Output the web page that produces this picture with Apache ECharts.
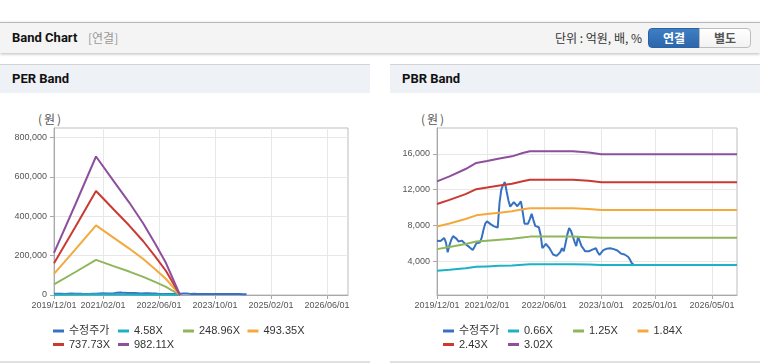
<!DOCTYPE html>
<html><head><meta charset="utf-8">
<script src="https://cdn.jsdelivr.net/npm/echarts@6/dist/echarts.min.js"></script>
<style>
html,body{margin:0;padding:0;width:760px;height:364px;overflow:hidden;background:#fff;font-family:Roboto,"Noto Sans CJK KR",sans-serif;}
#hdr{position:absolute;left:0;top:22px;width:760px;height:30px;border-top:1px solid #b8b8b8;background:#f4f4f4;box-shadow:0 1px 3px rgba(0,0,0,0.28);}
#ttl{position:absolute;left:12px;top:0;line-height:30px;font-weight:bold;font-size:13px;color:#111;}
#sub{position:absolute;left:88px;top:0;line-height:30px;font-size:12px;color:#999;font-family:"Noto Sans CJK KR",sans-serif;}
#unit{position:absolute;right:118px;top:0;line-height:30px;font-size:12px;color:#333;font-family:"Noto Sans CJK KR",sans-serif;}
.btn{position:absolute;top:5px;height:20px;box-sizing:border-box;font-size:12px;font-weight:bold;text-align:center;line-height:18px;font-family:"Noto Sans CJK KR",sans-serif;}
#b1{left:648px;width:52px;background:linear-gradient(#3f7ec4,#2c66ab);color:#fff;border:1px solid #2b62a4;border-radius:4px 0 0 4px;}
#b2{left:699px;width:52px;background:linear-gradient(#fff,#f2f2f2);color:#555;border:1px solid #bdbdbd;border-radius:0 4px 4px 0;}
.pt{position:absolute;top:64px;height:29px;width:370px;box-sizing:border-box;border-top:1px solid #d3d3d3;background:#eef2f7;font-weight:bold;font-size:13px;line-height:28px;padding-left:12px;color:#111;}
.won{position:absolute;top:110px;font-size:12px;letter-spacing:2px;color:#555;font-family:"Noto Sans CJK KR",sans-serif;}
.bl{position:absolute;top:361px;height:2px;width:370px;background:#e0e0e0;}
#chart{position:absolute;left:0;top:0;width:760px;height:364px;}
</style></head>
<body>
<div id="hdr"><div id="ttl">Band Chart</div><div id="sub">[연결]</div><div id="unit">단위 : 억원, 배, %</div>
<div class="btn" id="b1">연결</div><div class="btn" id="b2">별도</div></div>
<div class="pt" style="left:0">PER Band</div>
<div class="pt" style="left:390px">PBR Band</div>
<div class="won" style="left:38px">(원)</div>
<div class="won" style="left:421px">(원)</div>
<div class="bl" style="left:0"></div><div class="bl" style="left:390px"></div>
<div id="chart"></div>
<script>
// ---------- data ----------
const perTickLabels = ['2019/12/01','2021/02/01','2022/06/01','2023/10/01','2025/02/01','2026/06/01'];
const pbrTickLabels = ['2019/12/01','2021/02/01','2022/06/01','2023/10/01','2025/01/01','2026/05/01'];
const perYTicks = [0,200000,400000,600000,800000];
const pbrYTicks = [4000,8000,12000,16000];

// semi-monthly category axis 2019/12/01 .. 2026/12/01
const categories = [];
for (let m = 0; m <= 84; m++) {
  const y = 2019 + Math.floor((11 + m) / 12);
  const mo = (11 + m) % 12 + 1;
  const p = y + '/' + String(mo).padStart(2, '0');
  categories.push(p + '/01');
  if (m < 84) categories.push(p + '/16');
}

// 수정주가 (semi-monthly from 2019/12/01)
const price = [6300,6300,6250,6300,6600,6100,5000,5800,6400,6800,
  7000,6500,6200,6300,6300,6100,5900,5800,5600,5400,
  5250,5600,6000,6050,6100,6600,7500,8200,8450,8300,
  8150,8000,7900,7800,7750,10500,12000,12500,12850,11800,
  10800,10100,10300,10600,10400,10150,10300,10700,9500,8200,
  8200,8200,8700,9300,8600,7950,7900,7800,7000,5450,
  5700,5950,5700,5450,5100,4750,4600,4600,4600,5000,
  5450,5100,6000,7000,7700,7400,7300,6200,5700,6750,
  6200,5650,5400,5100,5100,5100,5100,5300,5450,5450,
  5000,4700,4900,5200,5300,5400,5450,5450,5400,5350,
  5350,5200,5000,4850,4800,4750,4700,4500,4200,3800,3650];

// PER band
const perNames = ['4.58X','248.96X','493.35X','737.73X','982.11X'];
const perBandDates = ['2019/12/01','2020/06/01','2020/12/01','2021/05/01','2021/09/16','2022/01/16','2022/05/01','2022/08/01','2022/12/01'];
const per458  = [998,2125,3279,2702,2189,1695,1200,756,0];
const per24896 = [54270,115520,178260,146890,119000,92120,65230,41080,0];
const per49335 = [107550,228910,353240,291080,235820,182540,129260,81400,0];
const per73773 = [160830,342310,528220,435260,352640,272960,193290,121730,0];
const per98211 = [214100,455700,703190,579450,469450,363380,257310,162050,0];

// PBR band
const pbrNames = ['0.66X','1.25X','1.84X','2.43X','3.02X'];
const pbrBandDates = ['2019/12/01','2020/03/16','2020/08/01','2020/11/01','2021/02/01','2021/05/16','2021/09/01','2021/12/01','2022/02/01','2023/02/01','2023/02/16','2023/06/16','2023/10/01','2026/12/01'];
const pbr066 = [2920,3040,3220,3370,3420,3480,3530,3610,3650,3650,3620,3620,3580,3580];
const pbr125 = [5350,5580,5920,6200,6300,6410,6510,6660,6750,6750,6690,6690,6610,6610];
const pbr184 = [7880,8220,8720,9130,9270,9430,9580,9810,9930,9930,9840,9840,9720,9720];
const pbr243 = [10400,10860,11510,12060,12240,12460,12660,12950,13120,13120,13000,13000,12840,12840];
const pbr302 = [12930,13490,14310,14990,15210,15480,15730,16100,16300,16300,16150,16150,15960,15960];

const colors = ['#3672c2','#1cb2c5','#8fb65a','#f3a93c','#cb3a32','#8e4f9e'];

// ---------- chart ----------
const pair = (dates, vals) => dates.map((d, i) => [d, vals[i]]);
const axisColor = '#a9a9a9', gridColor = '#e7e7e7', labelFont = '"Liberation Sans", Arial, sans-serif';

function xAxisCfg(gi, labels) {
  const show = (i, v) => labels.indexOf(v) >= 0;
  return {type:'category', gridIndex:gi, data:categories, boundaryGap:false,
    axisLine:{lineStyle:{color:axisColor}},
    axisTick:{show:true, interval:show, length:4, lineStyle:{color:axisColor}},
    axisLabel:{interval:show, fontSize:9, color:'#555', margin:6, fontFamily:labelFont},
    splitLine:{show:true, interval:show, lineStyle:{color:gridColor}}};
}
function yAxisCfg(gi, min, max, ticks) {
  return {type:'value', gridIndex:gi, min:min, max:max,
    axisLine:{show:true, lineStyle:{color:axisColor}},
    axisTick:{show:true, length:4, lineStyle:{color:axisColor}, customValues:ticks},
    axisLabel:{customValues:ticks, fontSize:9, color:'#555', margin:7, fontFamily:labelFont,
      formatter:v => Number(v).toLocaleString('en-US')},
    splitLine:{show:true, lineStyle:{color:gridColor}}};
}
function line(name, data, color, gi) {
  return {type:'line', name, data, xAxisIndex:gi, yAxisIndex:gi, color,
    symbol:'none', lineStyle:{width:2, color}, itemStyle:{color}, animation:false};
}
function leg(name, left, top) {
  return {data:[name], left, top, icon:'rect', itemWidth:11, itemHeight:3, itemGap:0, padding:0,
    selectedMode:false, textStyle:{fontSize:11, color:'#333', lineHeight:12, fontFamily:'"Liberation Sans", Arial, "Noto Sans CJK KR", sans-serif'}};
}

const series = [line('수정주가', price, colors[0], 0)];
[per458, per24896, per49335, per73773, per98211].forEach((v, i) =>
  series.push(line(perNames[i], pair(perBandDates, v), colors[i + 1], 0)));
series.push(line('수정주가', price, colors[0], 1));
[pbr066, pbr125, pbr184, pbr243, pbr302].forEach((v, i) =>
  series.push(line(pbrNames[i], pair(pbrBandDates, v), colors[i + 1], 1)));

const colX = [53, 118, 183, 247.5];
const rowY = [325, 338.5];
const legends = [];
['수정주가'].concat(perNames).forEach((n, i) => legends.push(leg(n, colX[i % 4], rowY[Math.floor(i / 4)])));
['수정주가'].concat(pbrNames).forEach((n, i) => legends.push(leg(n, colX[i % 4] + 390, rowY[Math.floor(i / 4)])));

const chart = echarts.init(document.getElementById('chart'), null, {renderer:'canvas'});
chart.setOption({
  animation:false,
  backgroundColor:'transparent',
  grid:[
    {left:54, top:128, width:294, height:167, show:true, borderColor:'#bdbdbd', borderWidth:1, backgroundColor:'#fff'},
    {left:437, top:128, width:300, height:167, show:true, borderColor:'#bdbdbd', borderWidth:1, backgroundColor:'#fff'}
  ],
  xAxis:[xAxisCfg(0, perTickLabels), xAxisCfg(1, pbrTickLabels)],
  yAxis:[yAxisCfg(0, 0, 848000, perYTicks), yAxisCfg(1, 220, 18900, pbrYTicks)],
  legend:legends,
  series
});
</script>
</body></html>
